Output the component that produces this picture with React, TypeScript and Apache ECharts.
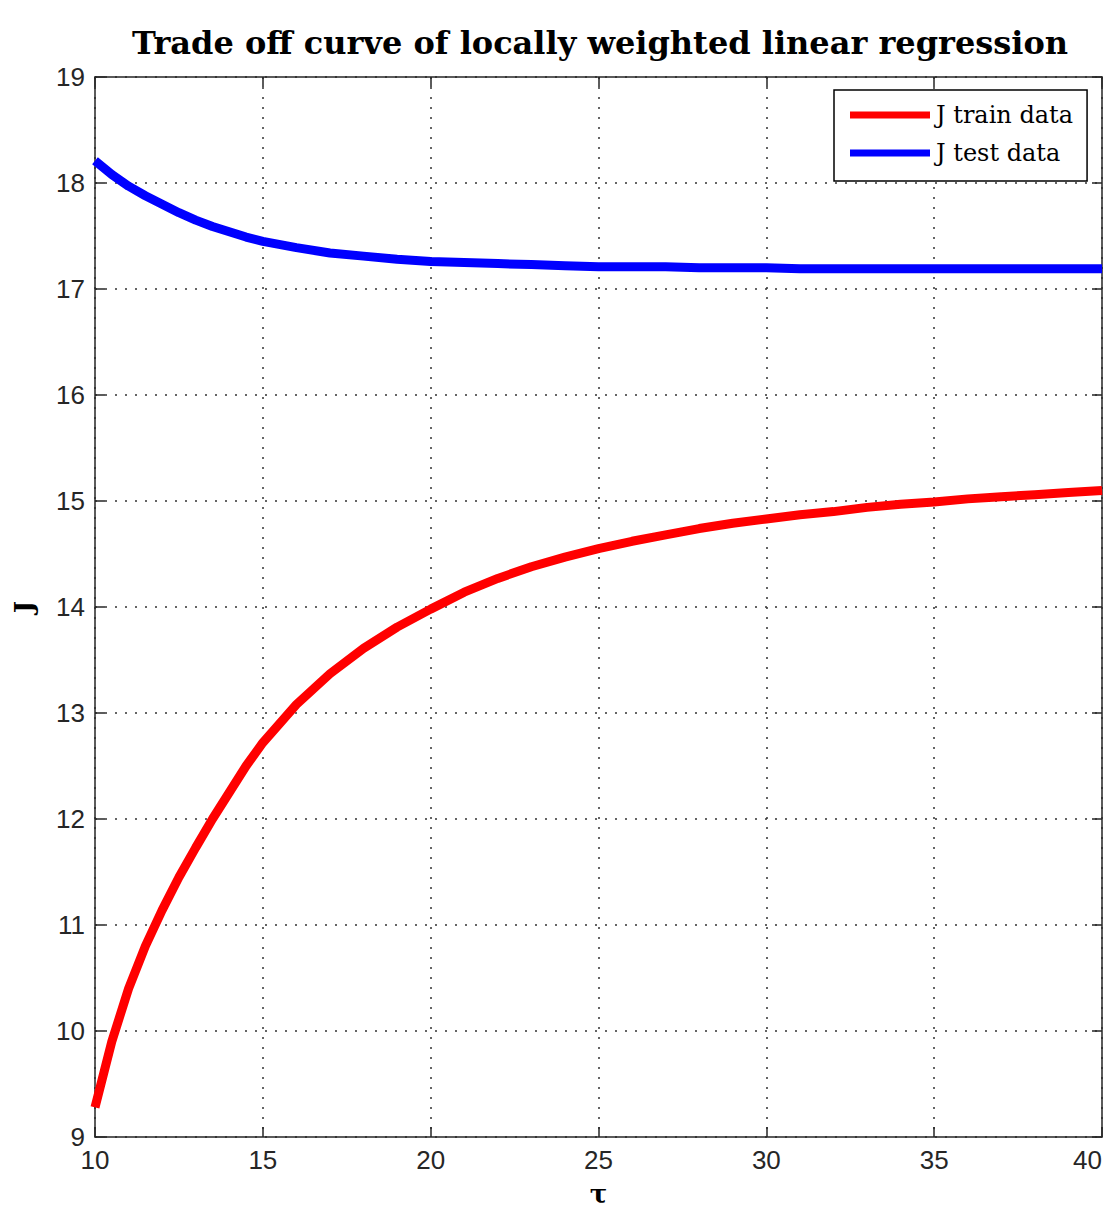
import React, { useEffect, useRef } from "react";
import * as echarts from "echarts";

const tau = [10, 10.5, 11, 11.5, 12, 12.5, 13, 13.5, 14, 14.5, 15, 16, 17, 18, 19, 20, 21, 22, 23, 24, 25, 26, 27, 28, 29, 30, 31, 32, 33, 34, 35, 36, 37, 38, 39, 40];
const jTrain = [9.28, 9.9, 10.4, 10.8, 11.14, 11.45, 11.73, 12.0, 12.25, 12.5, 12.72, 13.08, 13.37, 13.61, 13.81, 13.98, 14.14, 14.27, 14.38, 14.47, 14.55, 14.62, 14.68, 14.74, 14.79, 14.83, 14.87, 14.9, 14.94, 14.97, 14.99, 15.02, 15.04, 15.06, 15.08, 15.1];
const jTest = [18.21, 18.08, 17.97, 17.88, 17.8, 17.72, 17.65, 17.59, 17.54, 17.49, 17.45, 17.39, 17.34, 17.31, 17.28, 17.26, 17.25, 17.24, 17.23, 17.22, 17.21, 17.21, 17.21, 17.2, 17.2, 17.2, 17.19, 17.19, 17.19, 17.19, 17.19, 17.19, 17.19, 17.19, 17.19, 17.19];
const seriesNames = ["J train data", "J test data"];
const titleText = "Trade off curve of locally weighted linear regression";

const tickFont = "'Liberation Sans Narrow', 'Liberation Sans', Arial, sans-serif";
const serifFont = "'DejaVu Serif', serif";

export default function App() {
  const ref = useRef<HTMLDivElement>(null);
  useEffect(() => {
    if (!ref.current) return;
    const chart = echarts.init(ref.current, null, { renderer: "svg" });
    const axisLine = { show: true, lineStyle: { color: "#262626", width: 1.5 } };
    const tick = { show: true, inside: true, length: 10, lineStyle: { color: "#262626", width: 1.5 } };
    const grid = { show: true, lineStyle: { color: "#333", width: 1.5, type: [2, 8] as any } };
    chart.setOption({
      animation: false,
      backgroundColor: "#fff",
      title: {
        text: titleText,
        left: 595,
        textAlign: "center",
        top: 22,
        textStyle: { fontFamily: serifFont, fontWeight: "bold", fontSize: 32, color: "#000" },
      },
      grid: { left: 95, top: 77, right: 10, bottom: 77, containLabel: false, outerBoundsMode: "none" },
      legend: {
        data: seriesNames,
        orient: "vertical",
        left: 834,
        top: 90,
        icon: "rect",
        itemWidth: 80,
        itemHeight: 7,
        itemGap: 12,
        padding: [12, 14, 15, 16],
        borderColor: "#000",
        borderWidth: 1.5,
        backgroundColor: "#fff",
        textStyle: { fontFamily: serifFont, fontSize: 24, color: "#000", lineHeight: 26, padding: [0, 0, 0, 1] },
      },
      xAxis: [
        {
          type: "value",
          min: 10,
          max: 40,
          interval: 5,
          position: "bottom",
          name: "τ",
          nameLocation: "middle",
          nameGap: 44,
          nameTextStyle: { fontFamily: serifFont, fontWeight: "bold", fontSize: 26, color: "#000" },
          axisLine,
          axisTick: tick,
          axisLabel: { fontFamily: tickFont, fontSize: 26, color: "#262626", margin: 10, alignMaxLabel: "right" },
          splitLine: grid,
        },
        {
          type: "value",
          min: 10,
          max: 40,
          interval: 5,
          position: "top",
          axisLine,
          axisTick: tick,
          axisLabel: { show: false },
          splitLine: { show: false },
        },
      ],
      yAxis: [
        {
          type: "value",
          min: 9,
          max: 19,
          interval: 1,
          position: "left",
          name: "J",
          nameLocation: "middle",
          nameGap: 58,
          nameRotate: 90,
          nameTextStyle: { fontFamily: serifFont, fontWeight: "bold", fontSize: 26, color: "#000" },
          axisLine,
          axisTick: tick,
          axisLabel: { fontFamily: tickFont, fontSize: 26, color: "#262626", margin: 10 },
          splitLine: grid,
        },
        {
          type: "value",
          min: 9,
          max: 19,
          interval: 1,
          position: "right",
          axisLine,
          axisTick: tick,
          axisLabel: { show: false },
          splitLine: { show: false },
        },
      ],
      series: [
        {
          name: seriesNames[0],
          type: "line",
          data: tau.map((t, i) => [t, jTrain[i]]),
          showSymbol: false,
          smooth: false,
          color: "#ff0000",
          lineStyle: { color: "#ff0000", width: 9 },
          z: 3,
        },
        {
          name: seriesNames[1],
          type: "line",
          data: tau.map((t, i) => [t, jTest[i]]),
          showSymbol: false,
          smooth: false,
          color: "#0000ff",
          lineStyle: { color: "#0000ff", width: 9 },
          z: 3,
        },
      ],
    });
    return () => chart.dispose();
  }, []);
  return <div ref={ref} style={{ position: "fixed", left: 0, top: 0, width: 1112, height: 1214 }} />;
}
